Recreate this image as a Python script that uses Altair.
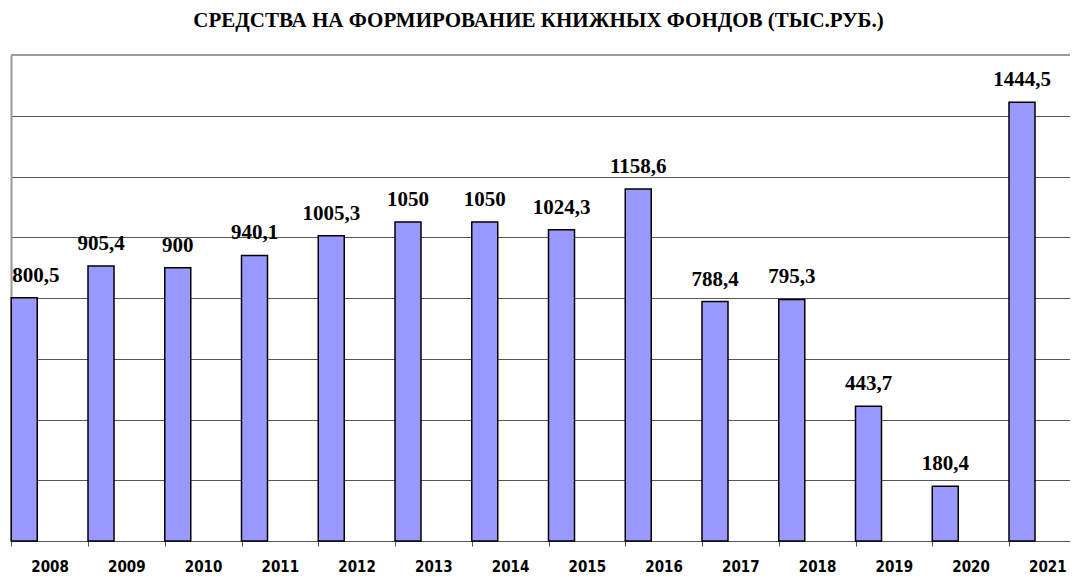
import altair as alt
import pandas as pd

years = ["2008", "2009", "2010", "2011", "2012", "2013", "2014",
         "2015", "2016", "2017", "2018", "2019", "2020", "2021"]
values = [800.5, 905.4, 900, 940.1, 1005.3, 1050, 1050,
          1024.3, 1158.6, 788.4, 795.3, 443.7, 180.4, 1444.5]
labels = ["800,5", "905,4", "900", "940,1", "1005,3", "1050", "1050",
          "1024,3", "1158,6", "788,4", "795,3", "443,7", "180,4", "1444,5"]
grid_values = [200, 400, 600, 800, 1000, 1200, 1400]
title_text = "СРЕДСТВА НА ФОРМИРОВАНИЕ КНИЖНЫХ ФОНДОВ (ТЫС.РУБ.)"

df = pd.DataFrame({"year": years, "value": values, "label": labels})
df["first"] = df["year"] == years[0]

BAND = 76.75
BAR_W = 26
OFF = -BAND / 2 + BAR_W / 2

xscale = alt.Scale(domain=years, range=[0.25, 0.25 + BAND * len(years)],
                   paddingInner=0, paddingOuter=0)
yscale = alt.Scale(domain=[0, 1600], nice=False)

x_enc = alt.X("year:O", scale=xscale, sort=years, title=None,
              axis=alt.Axis(labelAngle=0, tickBand="extent", ticks=True,
                            tickSize=5, tickColor="#555555", tickWidth=1,
                            domainColor="#555555", domainWidth=1,
                            labelFont="DejaVu Sans Condensed, DejaVu Sans",
                            labelFontWeight="bold",
                            labelFontSize=15, labelColor="black",
                            labelPadding=28, labelBaseline="bottom",
                            grid=False))
y_enc = alt.Y("value:Q", scale=yscale, title=None,
              axis=alt.Axis(values=grid_values, labels=False, ticks=False,
                            grid=True, gridColor="#555555", gridWidth=1,
                            domain=True, domainColor="#9a9a9a", domainWidth=2))

base = alt.Chart(df)

bars = base.mark_bar(width=BAR_W, xOffset=OFF, color="#9999FF",
                     stroke="black", strokeWidth=1.5).encode(x=x_enc, y=y_enc)

txt_style = dict(font="Liberation Serif", fontWeight="bold", fontSize=21,
                 color="black", baseline="alphabetic", dy=-16)

texts = base.transform_filter("!datum.first").mark_text(
    align="center", xOffset=OFF, **txt_style
).encode(x=alt.X("year:O", scale=xscale, sort=years),
         y=alt.Y("value:Q", scale=yscale), text="label:N")

text_first = base.transform_filter("datum.first").mark_text(
    align="left", xOffset=-BAND / 2 + 1, **txt_style
).encode(x=alt.X("year:O", scale=xscale, sort=years),
         y=alt.Y("value:Q", scale=yscale), text="label:N")

top_border = alt.Chart(pd.DataFrame({"v": [1600]})).mark_rule(
    color="#9a9a9a", strokeWidth=2
).encode(y=alt.Y("v:Q", scale=yscale))

chart = alt.layer(bars, texts, text_first, top_border).properties(
    width=1059, height=486,
    title=alt.TitleParams(title_text, font="Liberation Serif", fontSize=21,
                          fontWeight="bold", color="black", anchor="middle",
                          baseline="alphabetic", offset=6, dx=-2),
    autosize=alt.AutoSizeParams(type="none"),
    padding={"left": 3, "top": 47, "right": 0, "bottom": 34},
).configure_view(stroke=None)

chart.save("out.html", embed_options={"renderer": "svg", "actions": False})
